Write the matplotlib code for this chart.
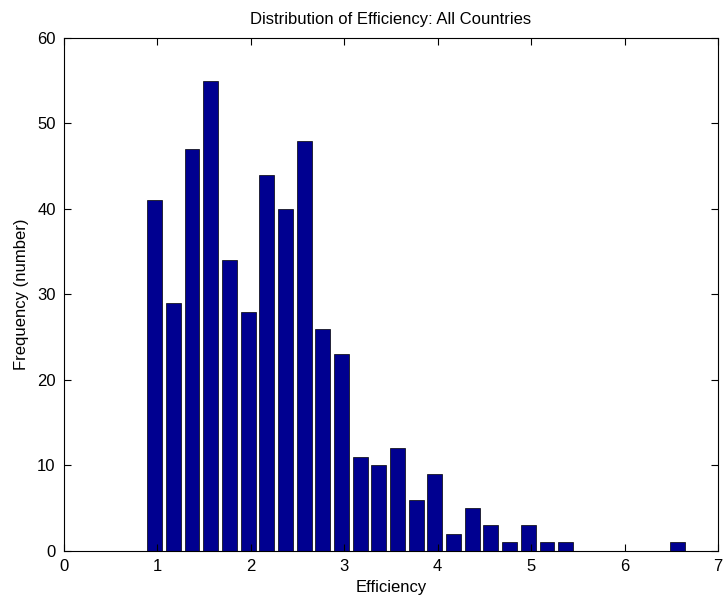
import matplotlib
matplotlib.use("Agg")
import matplotlib.pyplot as plt

# ==========================================================
# Data (bin centers and counts)
# ==========================================================

bin_centers = [0.97, 1.17, 1.37, 1.57, 1.77, 1.97, 2.17, 2.37, 2.57, 2.77,
               2.97, 3.17, 3.37, 3.57, 3.77, 3.97, 4.17, 4.37, 4.57, 4.77,
               4.97, 5.17, 5.37, 5.57, 5.77, 5.97, 6.17, 6.37, 6.57]
counts = [41, 29, 47, 55, 34, 28, 44, 40, 48, 26,
          23, 11, 10, 12, 6, 9, 2, 5, 3, 1,
          3, 1, 1, 0, 0, 0, 0, 0, 1]

x_ticks = [0, 1, 2, 3, 4, 5, 6, 7]
y_ticks = [0, 10, 20, 30, 40, 50, 60]

# ==========================================================
# Figure
# ==========================================================

plt.rcParams["font.family"] = ["Liberation Sans", "DejaVu Sans"]

fig = plt.figure(figsize=(7.24, 6.06), dpi=100)
ax = fig.add_axes([0.0884, 0.0908, 0.9033, 0.8465])

ax.bar(bin_centers, counts, width=0.16, color="#000090",
       edgecolor="black", linewidth=0.5)

ax.set_xlim(0, 7)
ax.set_ylim(0, 60)
ax.set_xticks(x_ticks)
ax.set_yticks(y_ticks)

ax.tick_params(direction="in", top=True, right=True, length=5,
               labelsize=12, pad=6)

for spine in ax.spines.values():
    spine.set_linewidth(0.8)

ax.set_title("Distribution of Efficiency: All Countries", fontsize=12, pad=10)
ax.set_xlabel("Efficiency", fontsize=12, labelpad=4)
ax.set_ylabel("Frequency (number)", fontsize=12, labelpad=6)

fig.savefig("out.png", dpi=100)
